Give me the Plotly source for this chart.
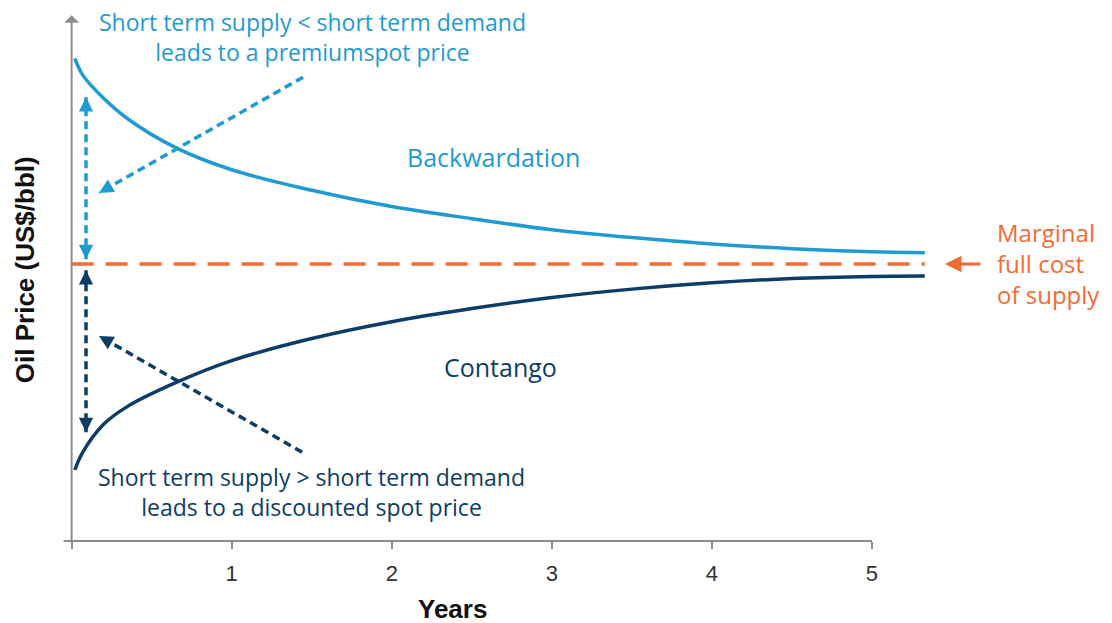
import plotly.graph_objects as go

# curve points (years, price index)
years = [0.02, 0.07, 0.2, 0.35, 0.65, 1.0, 1.5, 2.0, 2.5, 3.0, 3.5, 4.0, 4.5, 5.0, 5.33]
backwardation = [91.8, 88.6, 84.2, 80.3, 74.8, 70.6, 66.7, 63.6, 61.3, 59.2, 57.7, 56.5, 55.6, 55.0, 54.8]
contango = [13.5, 16.9, 22.2, 25.6, 30.1, 34.3, 38.5, 41.7, 44.2, 46.3, 47.9, 49.1, 49.9, 50.3, 50.4]
marginal_cost = 52.7
cost_span = [0.0, 5.33]

tick_vals = [0, 1, 2, 3, 4, 5]
tick_text = ["", "1", "2", "3", "4", "5"]

LIGHT = "#1f9ad2"
DARK = "#0d3d66"
ORANGE = "#f26b35"
GREY = "#8c8c8c"
TXT_FONT = "Open Sans, Lato, sans-serif"
AX_FONT = "Liberation Sans, Arial, sans-serif"
TXT_SIZE = 23

W, H = 1112, 623
L, R, T, B = 54, 192, 4, 90   # page body adds 8px on top/left
X_RANGE = [-0.06, 5.35]
Y_RANGE = [0, 100.6]
# pixels per data unit, used to size the small arrowheads
PX_X = (W - L - R) / (X_RANGE[1] - X_RANGE[0])
PX_Y = (H - T - B) / (Y_RANGE[1] - Y_RANGE[0])

fig = go.Figure()

fig.add_trace(go.Scatter(
    x=cost_span, y=[marginal_cost, marginal_cost], mode="lines",
    line=dict(color=ORANGE, width=3.5, dash="22px,12px"),
    hoverinfo="skip", showlegend=False
))
fig.add_trace(go.Scatter(
    x=years, y=backwardation, mode="lines", line_shape="spline",
    line=dict(color=LIGHT, width=3.5), name="Backwardation", showlegend=False
))
fig.add_trace(go.Scatter(
    x=years, y=contango, mode="lines", line_shape="spline",
    line=dict(color=DARK, width=3.5), name="Contango", showlegend=False
))

shapes = []
annotations = []


def dashed_arrow(x0, y0, x1, y1, color, both=False):
    # dashed shaft + arrowhead(s) at the end(s)
    shapes.append(dict(type="line", xref="x", yref="y", x0=x0, y0=y0, x1=x1, y1=y1,
                       line=dict(color=color, width=3.5, dash="8px,5px")))
    ends = [(x1, y1, x0, y0)]
    if both:
        ends.append((x0, y0, x1, y1))
    for tx, ty, fx, fy in ends:
        dx = (fx - tx) * PX_X
        dy = -(fy - ty) * PX_Y
        n = (dx ** 2 + dy ** 2) ** 0.5
        annotations.append(dict(
            x=tx, y=ty, xref="x", yref="y", text="", showarrow=True,
            ax=dx / n * 11, ay=dy / n * 11, arrowhead=2, arrowsize=1.1,
            arrowwidth=2.6, arrowcolor=color
        ))


dashed_arrow(1.446, 88.2, 0.171, 66.2, LIGHT)
dashed_arrow(1.44, 16.9, 0.171, 39.0, DARK)
dashed_arrow(0.09, 53.6, 0.09, 84.4, LIGHT, both=True)
dashed_arrow(0.09, 51.5, 0.09, 20.7, DARK, both=True)

# x axis line (stops at 5) and y axis arrow
shapes.append(dict(type="line", xref="x", yref="paper", x0=-0.05, x1=5, y0=0, y1=0,
                   line=dict(color=GREY, width=2)))
annotations.append(dict(x=0, y=100, xref="x", yref="y", ax=0, ay=-0.6, axref="x", ayref="y",
                        text="", showarrow=True, arrowhead=1, arrowsize=1.25,
                        arrowwidth=2, arrowcolor=GREY))

# orange arrow pointing at the dashed line
annotations.append(dict(x=1.0196, y=marginal_cost, xref="paper", yref="y", ax=37, ay=0,
                        text="", showarrow=True, arrowhead=2, arrowsize=1.1,
                        arrowwidth=3, arrowcolor=ORANGE))


def label(x, y, text, color, size=TXT_SIZE, **kw):
    annotations.append(dict(x=x, y=y, xref="x", yref="y", showarrow=False, text=text,
                            xanchor="center", yanchor="middle", align="center",
                            font=dict(family=TXT_FONT, size=size, color=color), **kw))


label(1.506, 95.85, "Short term supply < short term demand<br>leads to a premiumspot price", LIGHT)
label(2.634, 73.03, "Backwardation", LIGHT, size=25)
label(2.678, 33.09, "Contango", DARK, size=25)
label(1.496, 9.32, "Short term supply > short term demand<br>leads to a discounted spot price", DARK)

annotations.append(dict(x=1.0774, y=marginal_cost, xref="paper", yref="y", xanchor="left",
                        yanchor="middle", align="left", showarrow=False,
                        text="Marginal<br>full cost<br>of supply",
                        font=dict(family=TXT_FONT, size=24, color=ORANGE)))

annotations += [
    dict(x=-0.0427, y=0.512, xref="paper", yref="paper", xanchor="center", yanchor="middle",
         showarrow=False, textangle=-90, text="<b>Oil Price (US$/bbl)</b>",
         font=dict(family=AX_FONT, size=26, color="#111")),
    dict(x=0.4515, y=-0.1285, xref="paper", yref="paper", xanchor="center", yanchor="middle",
         showarrow=False, text="<b>Years</b>",
         font=dict(family=AX_FONT, size=26, color="#111")),
]

fig.update_layout(
    width=W, height=H,
    margin=dict(l=L, r=R, t=T, b=B),
    plot_bgcolor="white", paper_bgcolor="white",
    showlegend=False,
    shapes=shapes,
    annotations=annotations,
    xaxis=dict(range=X_RANGE, tickvals=tick_vals, ticktext=tick_text,
               ticks="outside", ticklen=7, tickwidth=2, tickcolor=GREY,
               ticklabelstandoff=6,
               showline=False, showgrid=False, zeroline=False, automargin=False,
               tickfont=dict(family=AX_FONT, size=22, color="#333")),
    yaxis=dict(range=Y_RANGE, showticklabels=False, showline=False,
               showgrid=False, zeroline=False, ticks=""),
)

fig.write_html("out.html")
